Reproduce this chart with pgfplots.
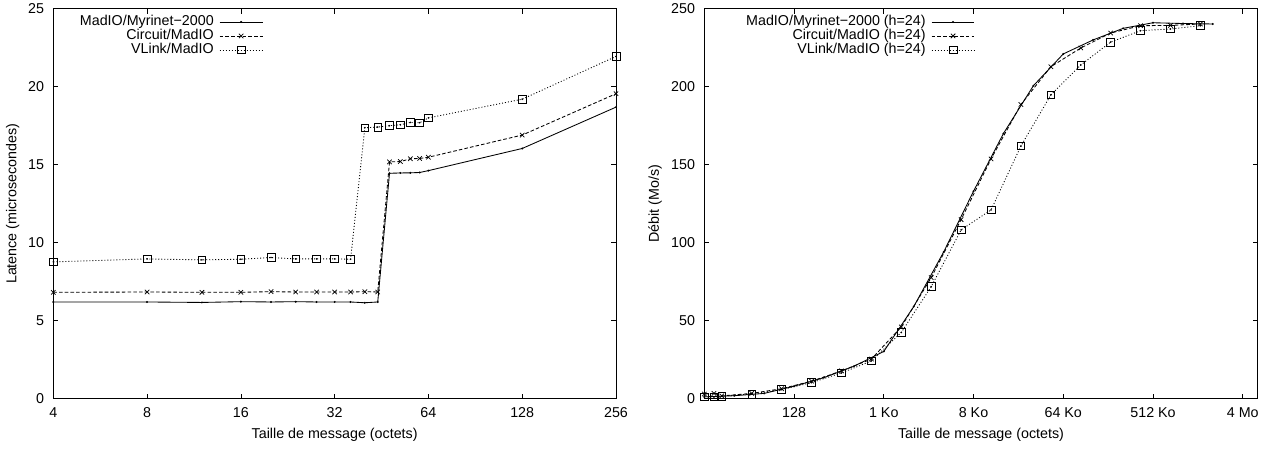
\documentclass[border=0pt]{standalone}
\usepackage{fontspec}
\setmainfont{Liberation Sans}
\usepackage{pgfplots}
\usepackage{pgfplotstable}
\pgfplotsset{compat=1.18}

% Left chart: latency (message size in bytes, microseconds)
\pgfplotstableread{
x y
4 6.20
8 6.20
12 6.17
16 6.22
20 6.20
24 6.22
28 6.20
32 6.20
36 6.20
40 6.15
44 6.20
48 14.45
52 14.47
56 14.48
60 14.50
64 14.62
128 16.04
256 18.69
}\latMad
\pgfplotstableread{
x y
4 6.82
8 6.84
12 6.82
16 6.82
20 6.86
24 6.84
28 6.84
32 6.84
36 6.84
40 6.86
44 6.84
48 15.18
52 15.20
56 15.38
60 15.40
64 15.48
128 16.90
256 19.55
}\latCir
\pgfplotstableread{
x y
4 8.77
8 8.96
12 8.90
16 8.94
20 9.05
24 8.96
28 8.96
32 8.96
36 8.94
40 17.37
44 17.41
48 17.50
52 17.56
56 17.71
60 17.69
64 18.00
128 19.20
256 21.94
}\latVl

% Right chart: bandwidth (message size in bytes, Mo/s)
\pgfplotstableread{
x y
16 1.2
32 1.9
64 3.4
128 8.0
256 13.5
512 20.8
1024 30.3
2048 59
4096 94
8192 133
16384 170
32768 200.6
65536 221
131072 230
262144 237.4
524288 241
1048576 240.5
2097152 240.2
}\bwMad
\pgfplotstableread{
x y
16 3.0
20 3.4
24 1.8
48 3.4
96 6.4
192 11.2
384 17.8
768 25.4
1536 46
3072 77.6
6144 114.8
12288 153.7
24576 188.6
49152 212.8
98304 224.8
196608 234.4
393216 239.1
786432 239.3
1572864 240.2
}\bwCir
\pgfplotstableread{
x y
16 1.1
20 1.1
24 1.7
48 3.0
96 5.8
192 10.3
384 16.5
768 24.2
1536 42.5
3072 71.8
6144 108.2
12288 121
24576 162
49152 194.7
98304 213.9
196608 228.6
393216 235.9
786432 237
1572864 239.1
}\bwVl

\pgfplotsset{
  gpsolid/.style={black, line width=0.6pt, solid, mark=*, mark size=0.35pt},
  gpdash/.style={black, line width=0.6pt, dash pattern=on 2.5pt off 1.5pt, mark=x, mark size=2.2pt, mark options={solid, line width=0.5pt}},
  gpdot/.style={black, line width=0.6pt, dash pattern=on 0.7pt off 1.4pt, mark=square, mark size=2.7pt, mark options={solid, line width=0.5pt}},
  gpdotc/.style={black, only marks, mark=*, mark size=0.35pt, forget plot},
  every axis/.append style={
    scale only axis,
    font=\fontsize{10}{12}\selectfont,
    tick align=inside,
    major tick length=3.5pt,
    axis line style={line width=0.6pt},
    every tick/.style={black, line width=0.5pt},
    /pgf/number format/assume math mode=true,
    yticklabel style={xshift=-3pt},
    xticklabel style={yshift=-2.5pt},
    legend cell align=right,
    legend plot pos=right,
    legend style={draw=none, fill=none, inner sep=0pt, outer sep=0pt,
      column sep=3.5pt, row sep=0pt,
      nodes={inner sep=0.4pt, text height=7.2pt, text depth=1.8pt}},
    legend image code/.code={\draw[mark repeat=2,mark phase=2,#1] plot coordinates {(0pt,0pt)(15pt,0pt)(30pt,0pt)};},
  },
}

\begin{document}
\begin{tikzpicture}
\begin{axis}[
  at={(37.31pt,34.51pt)}, anchor=south west,
  width=393.89pt, height=273pt,
  xmode=log, log basis x=2,
  xmin=4, xmax=256, ymin=0, ymax=25,
  xtick={4,8,16,32,64,128,256},
  xticklabels={4,8,16,32,64,128,256},
  ytick={0,5,10,15,20,25},
  xlabel={Taille de message (octets)},
  ylabel={Latence (microsecondes)},
  xlabel style={at={(axis description cs:0.5,-0.093)}, anchor=center},
  ylabel style={at={(axis description cs:-0.072,0.5)}, anchor=center},
  legend style={at={(axis description cs:0.3727,0.984)}, anchor=north east},
]
\addplot[gpsolid] table[x=x,y=y] {\latMad};
\addlegendentry{MadIO/Myrinet−2000}
\addplot[gpdash] table[x=x,y=y] {\latCir};
\addlegendentry{Circuit/MadIO}
\addplot[gpdot] table[x=x,y=y] {\latVl};
\addlegendentry{VLink/MadIO}
\addplot[gpdotc] table[x=x,y=y] {\latVl};
\end{axis}

\begin{axis}[
  at={(493.01pt,34.51pt)}, anchor=south west,
  width=387.38pt, height=273pt,
  xmode=log, log basis x=2,
  xmin=16, xmax=5931642, ymin=0, ymax=250,
  xtick={128,1024,8192,65536,524288,4194304},
  xticklabels={128,1 Ko,8 Ko,64 Ko,512 Ko,4 Mo},
  ytick={0,50,100,150,200,250},
  xlabel={Taille de message (octets)},
  ylabel={Débit (Mo/s)},
  xlabel style={at={(axis description cs:0.5,-0.093)}, anchor=center},
  ylabel style={at={(axis description cs:-0.089,0.5)}, anchor=center},
  legend style={at={(axis description cs:0.489,0.984)}, anchor=north east},
]
\addplot[gpsolid] table[x=x,y=y] {\bwMad};
\addlegendentry{MadIO/Myrinet−2000 (h=24)}
\addplot[gpdash] table[x=x,y=y] {\bwCir};
\addlegendentry{Circuit/MadIO (h=24)}
\addplot[gpdot] table[x=x,y=y] {\bwVl};
\addlegendentry{VLink/MadIO (h=24)}
\addplot[gpdotc] table[x=x,y=y] {\bwVl};
\end{axis}
\pgfresetboundingbox
\useasboundingbox (0pt,0pt) rectangle (886.9pt,313.6pt);
\end{tikzpicture}
\end{document}
